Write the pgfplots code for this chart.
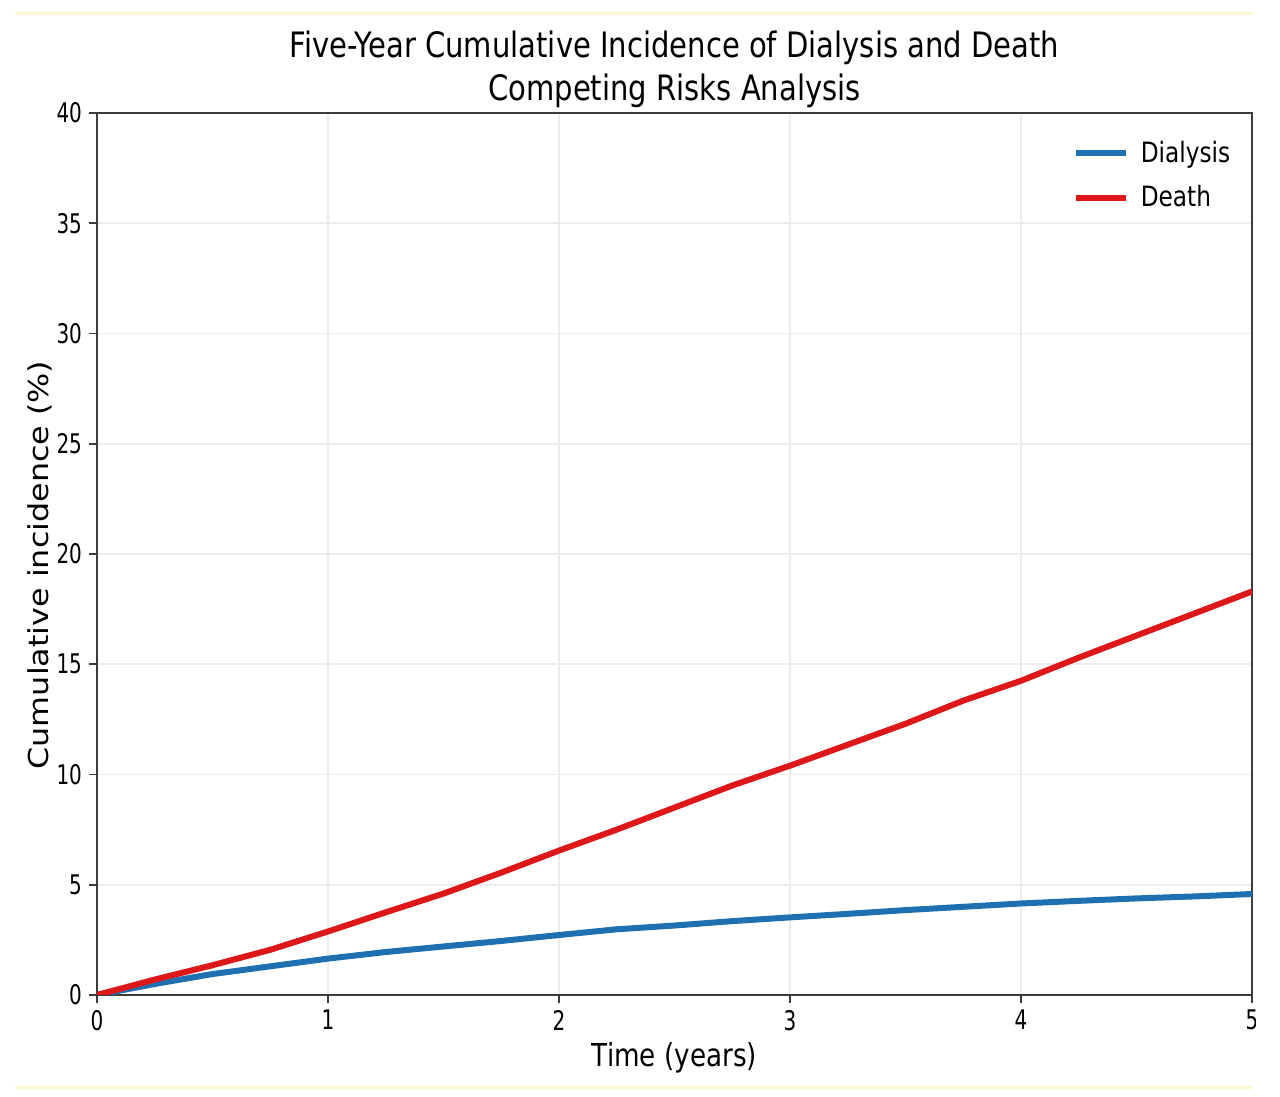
\documentclass[border=0pt]{standalone}
\usepackage{fontspec}
\setmainfont{DejaVu Sans}[FakeStretch=0.83]
\newfontfamily\tickfont{DejaVu Sans}[FakeStretch=0.74]
\newfontfamily\ylabfont{DejaVu Sans}[FakeStretch=1.16]
\usepackage{pgfplots}
\usepackage{pgfplotstable}
\pgfplotsset{compat=1.18}

\definecolor{dialysis}{RGB}{31,112,176}
\definecolor{death}{RGB}{222,24,24}
\definecolor{paleyellow}{RGB}{252,249,205}
\definecolor{spine}{RGB}{60,60,60}
\definecolor{gridgray}{RGB}{236,236,236}

% cumulative incidence (%)
\pgfplotstableread{
t    dialysis death
0.00 0.00  0.00
0.25 0.50  0.70
0.50 0.95  1.35
0.75 1.30  2.05
1.00 1.65  2.88
1.25 1.95  3.75
1.50 2.20  4.60
1.75 2.45  5.55
2.00 2.72  6.55
2.25 2.98  7.50
2.50 3.15  8.50
2.75 3.35  9.50
3.00 3.52  10.40
3.25 3.68  11.35
3.50 3.85  12.30
3.75 4.00  13.35
4.00 4.15  14.25
4.25 4.27  15.30
4.50 4.38  16.30
4.75 4.47  17.30
5.00 4.58  18.30
}\cif

\begin{document}
\begin{tikzpicture}
\begin{axis}[
    scale only axis,
    width=577.5pt, height=441pt,
    clip mode=individual,
    xmin=0, xmax=5, ymin=0, ymax=40,
    xtick={0,1,2,3,4,5},
    ytick={0,5,...,40},
    xtick pos=bottom, ytick pos=left,
    tick align=outside,
    major tick length=4pt,
    grid=major,
    major grid style={gridgray, line width=0.8pt},
    axis line style={spine, line width=1pt},
    tick style={spine, line width=0.8pt},
    /pgf/number format/assume math mode=true,
    tick label style={font=\tickfont\fontsize{13.5}{15}\selectfont},
    xlabel={Time (years)},
    ylabel={Cumulative incidence (\%)},
    xlabel style={font=\fontsize{15.8}{18}\selectfont,
        at={(axis description cs:0.5,-0.0805)}, anchor=base, inner sep=0pt},
    ylabel style={font=\ylabfont\fontsize{13.7}{16}\selectfont,
        at={(axis description cs:-0.042,0.4875)}, anchor=base, inner sep=0pt},
    legend style={draw=none, fill=none,
        font=\fontsize{14}{16}\selectfont,
        at={(axis description cs:0.985,0.973)}, anchor=north east,
        row sep=6pt, column sep=4pt, inner sep=0pt,
        nodes={inner sep=2pt}},
    legend cell align=left,
    legend image code/.code={\draw[#1] (0pt,0pt) -- (25pt,0pt);},
]
\addplot[dialysis, line width=3pt] table[x=t, y=dialysis]{\cif};
\addlegendentry{Dialysis}
\addplot[death, line width=3pt] table[x=t, y=death]{\cif};
\addlegendentry{Death}

\node[font=\fontsize{17.5}{20}\selectfont, anchor=base]
    at (axis description cs:0.5,1.0624) {Five-Year Cumulative Incidence of Dialysis and Death};
\node[font=\fontsize{17.5}{20}\selectfont, anchor=base]
    at (axis description cs:0.5,1.0147) {Competing Risks Analysis};
\end{axis}
\draw[paleyellow, line width=1.5pt] (-41pt,490.5pt) -- (577.5pt,490.5pt);
\draw[paleyellow, line width=1.5pt] (-41pt,-46.5pt) -- (577.5pt,-46.5pt);
% the source image is cut just right of the last tick label
\fill[white] (579.5pt,-22pt) rectangle (591.5pt,-4pt);
\pgfresetboundingbox
\useasboundingbox (-48.5pt,-51pt) rectangle (591.5pt,497.5pt);
\end{tikzpicture}
\end{document}
